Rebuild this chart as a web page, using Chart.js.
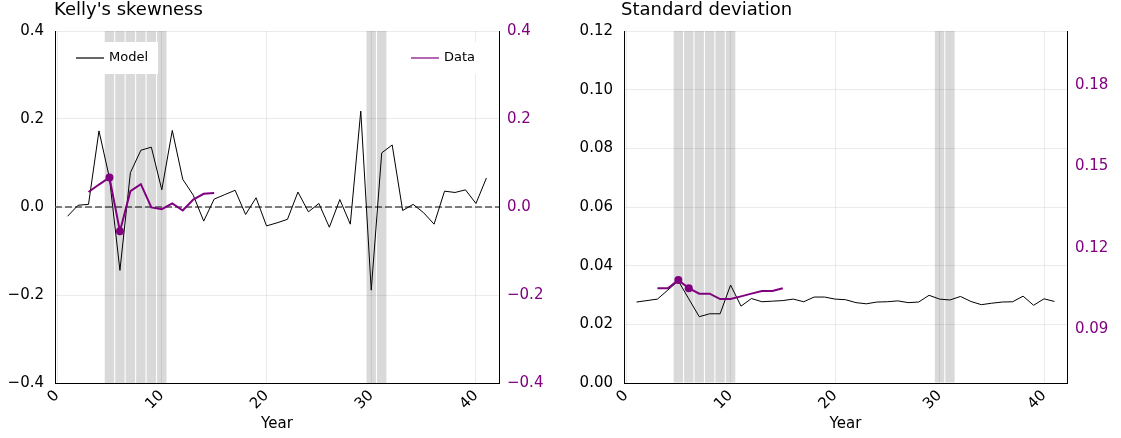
<!DOCTYPE html>
<html>
<head>
<meta charset="utf-8">
<script src="https://cdn.jsdelivr.net/npm/chart.js@4"></script>
<style>
body { margin: 0; background: #fff; }
#wrap { position: relative; width: 1121px; height: 438px; }
.panel { position: absolute; top: 0; height: 438px; }
</style>
</head>
<body>
<div id="wrap">
  <div class="panel" style="left:0;width:560px"><canvas id="skewChart" width="560" height="438"></canvas></div>
  <div class="panel" style="left:560px;width:561px"><canvas id="stdChart" width="561" height="438"></canvas></div>
</div>
<script>
// years of the model run
var years = [1,2,3,4,5,6,7,8,9,10,11,12,13,14,15,16,17,18,19,20,21,22,23,24,25,26,27,28,29,30,31,32,33,34,35,36,37,38,39,40,41];
// years where we have data
var dataYears = [3,4,5,6,7,8,9,10,11,12,13,14,15];
// shaded years (recessions)
var shadedYears = [5,6,7,8,9,10,30,31];
// years with a marker on the data line
var dotYears = [5,6];

var skewModel = [-0.021,0.004,0.006,0.173,0.066,-0.144,0.078,0.129,0.136,0.039,0.174,0.063,0.027,-0.032,0.018,0.028,0.038,-0.017,0.021,-0.043,
  -0.036,-0.028,0.034,-0.011,0.008,-0.046,0.017,-0.039,0.218,-0.189,0.123,0.141,-0.008,0.006,-0.013,-0.039,0.036,0.033,0.039,0.008,0.066];
var skewData = [0.034,0.051,0.067,-0.055,0.036,0.052,-0.001,-0.005,0.008,-0.008,0.017,0.030,0.032];

var stdModel = [0.0276,0.0281,0.0286,0.0317,0.0348,0.0287,0.0226,0.0236,0.0236,0.0334,0.0262,0.0288,0.0277,0.0279,0.0281,0.0286,0.0277,0.0293,0.0293,0.0286,
  0.0284,0.0274,0.0270,0.0276,0.0277,0.0280,0.0274,0.0276,0.0299,0.0286,0.0283,0.0295,0.0278,0.0267,0.0272,0.0276,0.0277,0.0296,0.0265,0.0287,0.0278];
var stdData = [0.105,0.105,0.108,0.105,0.103,0.103,0.101,0.101,0.102,0.103,0.104,0.104,0.105];

// tick labels
var xTicks = [0,10,20,30,40];
var skewTicks = [-0.4,-0.2,0,0.2,0.4];
var stdTicks = [0,0.02,0.04,0.06,0.08,0.10,0.12];
var stdDataTicks = [0.09,0.12,0.15,0.18];

var purple = "#800080";
var gridColor = "rgba(0,0,0,0.08)";
Chart.defaults.font.family = "'DejaVu Sans', sans-serif";
Chart.defaults.color = "#000";

function fmt(d) {
  return function(v) { return (v < 0 ? "\u2212" : "") + Math.abs(v).toFixed(d); };
}
function pts(xs, ys) {
  return xs.map(function(x, i) { return {x: x, y: ys[i]}; });
}
function setTicks(list) {
  return function(s) { s.ticks = list.map(function(v) { return {value: v}; }); };
}

// titles, legends and the dashed zero line
var decor = {
  id: "decor",
  beforeDatasetsDraw: function(chart, args, opts) {
    if (!opts.zeroLine) return;
    var c = chart.ctx, a = chart.chartArea;
    var y0 = chart.scales.y.getPixelForValue(0);
    c.save();
    c.strokeStyle = "#555";
    c.lineWidth = 1.5;
    c.setLineDash([7, 3]);
    c.beginPath();
    c.moveTo(a.left, y0);
    c.lineTo(a.right, y0);
    c.stroke();
    c.restore();
  },
  afterDraw: function(chart, args, opts) {
    var c = chart.ctx, a = chart.chartArea;
    c.save();
    c.font = "18px 'DejaVu Sans'";
    c.fillStyle = "#000";
    c.textBaseline = "middle";
    c.textAlign = "left";
    c.fillText(opts.title, a.left + opts.titleDx, 10);
    c.font = "13px 'DejaVu Sans'";
    opts.legends.forEach(function(l) {
      var ds = chart.data.datasets[l.dataset];
      var w = 10 + 28 + 5 + c.measureText(ds.label).width + 10;
      var bx = l.side === "left" ? a.left + 11 : a.right - 14 - w;
      var by = a.top + 11;
      c.fillStyle = "#fff";
      c.fillRect(bx, by, w, 32);
      c.strokeStyle = ds.borderColor;
      c.lineWidth = 1.2;
      c.beginPath();
      c.moveTo(bx + 10, by + 16);
      c.lineTo(bx + 38, by + 16);
      c.stroke();
      c.fillStyle = "#000";
      c.fillText(ds.label, bx + 43, by + 16);
    });
    c.restore();
  }
};

function makePanel(id, cfg) {
  var ctx = document.getElementById(id);
  return new Chart(ctx, {
    type: "line",
    data: {
      datasets: [
        {
          label: "Model",
          data: pts(years, cfg.model),
          borderColor: "#000",
          borderWidth: 1,
          pointRadius: 0,
          yAxisID: "y",
          order: 1
        },
        {
          label: "Data",
          data: pts(dataYears, cfg.data),
          borderColor: purple,
          backgroundColor: purple,
          borderWidth: 2,
          pointRadius: function(c) { return dotYears.indexOf(c.raw.x) >= 0 ? 4 : 0; },
          pointBorderWidth: 0,
          yAxisID: "y2",
          order: 0
        },
        {
          type: "bar",
          label: "shade",
          data: shadedYears.map(function(x) { return {x: x, y: [cfg.yMin, cfg.yMax]}; }),
          backgroundColor: "rgba(0,0,0,0.15)",
          borderWidth: 0,
          categoryPercentage: 1,
          barPercentage: 0.9,
          yAxisID: "y",
          order: 5
        }
      ]
    },
    options: {
      responsive: false,
      animation: false,
      layout: {padding: {top: 31, left: 0, right: 0, bottom: 0}},
      plugins: {
        legend: {display: false},
        tooltip: {enabled: false},
        decor: {title: cfg.title, titleDx: cfg.titleDx, zeroLine: cfg.zeroLine, legends: cfg.legends}
      },
      scales: {
        x: {
          type: "linear",
          min: -0.2,
          max: 42.2,
          offset: false,
          afterBuildTicks: setTicks(xTicks),
          afterFit: function(s) { s.height = 55; },
          ticks: {minRotation: 45, maxRotation: 45, padding: 4, font: {size: 15}, color: "#000"},
          grid: {color: gridColor, drawTicks: false, offset: false},
          border: {color: "#000"},
          title: {display: true, text: "Year", font: {size: 15}, color: "#000", padding: {top: 0, bottom: 5}}
        },
        y: {
          position: "left",
          min: cfg.yMin,
          max: cfg.yMax,
          afterBuildTicks: setTicks(cfg.yTicks),
          afterFit: function(s) { s.width = cfg.leftW; },
          ticks: {padding: 11, font: {size: 15}, color: "#000", callback: fmt(cfg.yDec)},
          grid: {color: gridColor, drawTicks: false},
          border: {color: "#000"}
        },
        y2: {
          position: "right",
          min: cfg.y2Min,
          max: cfg.y2Max,
          afterBuildTicks: setTicks(cfg.y2Ticks),
          afterFit: function(s) { s.width = cfg.rightW; },
          ticks: {padding: 8, font: {size: 15}, color: purple, callback: fmt(cfg.y2Dec)},
          grid: {drawOnChartArea: false, drawTicks: false},
          border: {color: "#000"}
        }
      }
    },
    plugins: [decor]
  });
}

makePanel("skewChart", {
  model: skewModel, data: skewData,
  yMin: -0.4, yMax: 0.4, yTicks: skewTicks, yDec: 1,
  y2Min: -0.4, y2Max: 0.4, y2Ticks: skewTicks, y2Dec: 1,
  leftW: 55, rightW: 61,
  title: "Kelly's skewness", titleDx: -1, zeroLine: true,
  legends: [{dataset: 0, side: "left"}, {dataset: 1, side: "right"}]
});

makePanel("stdChart", {
  model: stdModel, data: stdData,
  yMin: 0, yMax: 0.12, yTicks: stdTicks, yDec: 2,
  y2Min: 0.07, y2Max: 0.20, y2Ticks: stdDataTicks, y2Dec: 2,
  leftW: 64, rightW: 54,
  title: "Standard deviation", titleDx: -3, zeroLine: false,
  legends: []
});
</script>
</body>
</html>
